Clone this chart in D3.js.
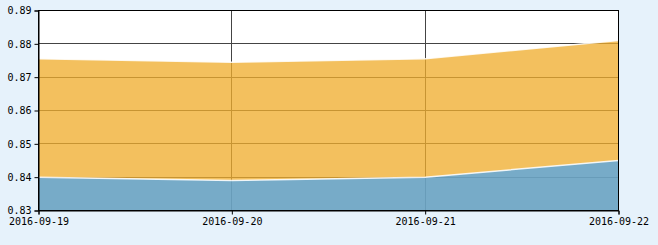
<!DOCTYPE html>
<html><head><meta charset="utf-8">
<script src="https://cdn.jsdelivr.net/npm/d3@7"></script>
<style>html,body{margin:0;padding:0;background:#e6f2fb;}svg{display:block;}</style>
</head><body>
<svg id="c" width="658" height="245"></svg>
<script>
const categories = ["2016-09-19","2016-09-20","2016-09-21","2016-09-22"];
const lowerSeries = [0.840, 0.839, 0.840, 0.845];
const upperSeries = [0.8755, 0.8745, 0.8755, 0.881];
const yTicks = [0.83, 0.84, 0.85, 0.86, 0.87, 0.88, 0.89];

const svg = d3.select("#c");
const L = 38.5, R = 618.5, T = 10.5, B = 210.5;
const x = d3.scalePoint().domain(categories).range([L, R]);
const y = d3.scaleLinear().domain([0.83, 0.89]).range([B, T]);
const font = "'DejaVu Sans Mono', monospace";

svg.append("rect").attr("x", L).attr("y", T).attr("width", R - L).attr("height", B - T).attr("fill", "#fff");

// grid
const g = svg.append("g").attr("stroke", "#444").attr("stroke-width", 1);
yTicks.slice(1, -1).forEach(v => {
  const yy = Math.floor(y(v)) + 0.5;
  g.append("line").attr("x1", L).attr("x2", R).attr("y1", yy).attr("y2", yy);
});
categories.slice(1, -1).forEach(c => g.append("line").attr("x1", Math.floor(x(c)) + 0.5).attr("x2", Math.floor(x(c)) + 0.5).attr("y1", T).attr("y2", B));

const data = categories.map((c, i) => ({c, lo: lowerSeries[i], hi: upperSeries[i]}));
const upperArea = d3.area().x(d => x(d.c)).y0(d => y(d.lo)).y1(d => y(d.hi));
const lowerArea = d3.area().x(d => x(d.c)).y0(B).y1(d => y(d.lo));
svg.append("path").datum(data).attr("d", upperArea).attr("fill", "#efad2e").attr("fill-opacity", 0.77);
svg.append("path").datum(data).attr("d", lowerArea).attr("fill", "#6ba4c3").attr("fill-opacity", 0.92);

const lineHi = d3.line().x(d => x(d.c)).y(d => y(d.hi));
const lineLo = d3.line().x(d => x(d.c)).y(d => y(d.lo));
svg.append("path").datum(data).attr("d", lineHi).attr("fill", "none").attr("stroke", "#fff").attr("stroke-opacity", 0.85).attr("stroke-width", 1.5);
svg.append("path").datum(data).attr("d", lineLo).attr("fill", "none").attr("stroke", "#fff").attr("stroke-opacity", 0.85).attr("stroke-width", 1.5);

// frame
svg.append("rect").attr("x", L).attr("y", T).attr("width", R - L).attr("height", B - T).attr("fill", "none").attr("stroke", "#000");

// axes
const yAxis = d3.axisLeft(y).tickValues(yTicks).tickSize(4).tickPadding(3).tickFormat(d3.format(".2f"));
const ya = svg.append("g").attr("transform", `translate(${L},0)`).call(yAxis);
const xAxis = d3.axisBottom(x).tickSize(4).tickPadding(3);
const xa = svg.append("g").attr("transform", `translate(0,${B})`).call(xAxis);
[ya, xa].forEach(a => {
  a.select(".domain").attr("stroke", "#000");
  a.selectAll(".tick line").attr("stroke", "#000");
  a.selectAll("text").attr("font-family", font).attr("font-size", 10).attr("fill", "#000");
});
</script>
</body></html>
